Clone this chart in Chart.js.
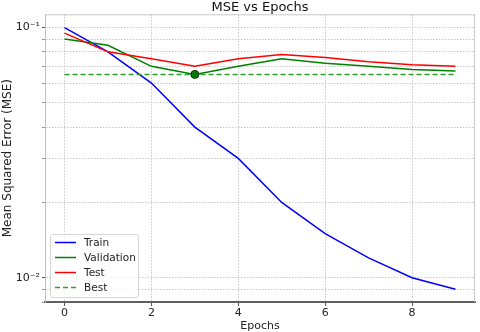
<!DOCTYPE html>
<html><head><meta charset="utf-8">
<script src="https://cdn.jsdelivr.net/npm/chart.js@4/dist/chart.umd.min.js"></script>
<style>html,body{margin:0;padding:0;background:#fff;overflow:hidden}#c{display:block}</style>
</head><body><canvas id="c" width="480" height="332"></canvas>
<script>
const epochs = [0,1,2,3,4,5,6,7,8,9];
const train = [0.1,0.08,0.06,0.04,0.03,0.02,0.015,0.012,0.01,0.009];
const validation = [0.09,0.085,0.07,0.065,0.07,0.075,0.072,0.07,0.068,0.067];
const test = [0.095,0.08,0.075,0.07,0.075,0.078,0.076,0.073,0.071,0.07];
const bestEpoch = 3;
const bestValue = 0.065;
const xTicks = [0,2,4,6,8];
const yTicks = [0.008,0.009,0.01,0.02,0.03,0.04,0.05,0.06,0.07,0.08,0.09,0.1];
const yMajorLabels = {"0.01":"10\u207B\u00B2","0.1":"10\u207B\u00B9"};

const pts = arr => epochs.map((e,i)=>({x:e,y:arr[i]}));
const FONT = "'DejaVu Sans', sans-serif";

const legendPlugin = {
  id:'boxLegend',
  afterDraw(chart){
    const ctx = chart.ctx;
    const items = chart.data.datasets.filter(d=>!d.hideLegend);
    const x0 = 50.5, y0 = 234.5, w = 88, h = 63;
    ctx.save();
    ctx.fillStyle = 'rgba(255,255,255,0.8)';
    ctx.strokeStyle = '#d6d6d6';
    ctx.lineWidth = 1;
    ctx.beginPath();
    ctx.roundRect ? ctx.roundRect(x0,y0,w,h,2.5) : ctx.rect(x0,y0,w,h);
    ctx.fill(); ctx.stroke();
    ctx.font = '10.5px ' + FONT;
    ctx.textBaseline = 'middle';
    items.forEach((d,i)=>{
      const y = y0 + 8 + i*15;
      ctx.strokeStyle = d.borderColor;
      ctx.lineWidth = 1.5;
      ctx.setLineDash(d.borderDash || []);
      ctx.beginPath(); ctx.moveTo(55,y); ctx.lineTo(76,y); ctx.stroke();
      ctx.setLineDash([]);
      ctx.fillStyle = '#222';
      ctx.fillText(d.label, 84, y+0.5);
    });
    ctx.restore();
  }
};
const framePlugin = {
  id:'frame',
  afterDraw(chart){
    const a = chart.chartArea, ctx = chart.ctx;
    ctx.save();
    ctx.strokeStyle = '#c8c8c8'; ctx.lineWidth = 1;
    ctx.beginPath(); ctx.moveTo(a.left, a.top+0.5); ctx.lineTo(a.right, a.top+0.5);
    ctx.moveTo(a.right-0.5, a.top); ctx.lineTo(a.right-0.5, a.bottom); ctx.stroke();
    ctx.restore();
  }
};

new Chart(document.getElementById('c'), {
  type:'line',
  data:{datasets:[
    {label:'Train', data:pts(train), borderColor:'#0000ff', borderWidth:1.5, pointRadius:0, tension:0, order:4},
    {label:'Validation', data:pts(validation), borderColor:'#008000', borderWidth:1.5, pointRadius:0, tension:0, order:3},
    {label:'Test', data:pts(test), borderColor:'#ff0000', borderWidth:1.5, pointRadius:0, tension:0, order:2},
    {label:'Best', data:[{x:epochs[0],y:bestValue},{x:epochs[epochs.length-1],y:bestValue}], borderColor:'#2ca02c', borderDash:[5,3], borderWidth:1.5, pointRadius:0, order:1},
    {label:'best point', hideLegend:true, data:[{x:bestEpoch,y:bestValue}], showLine:false, pointRadius:4, pointBackgroundColor:'#0a7a0a', pointBorderColor:'#003300', pointBorderWidth:1, order:0}
  ]},
  options:{
    responsive:false, animation:false, devicePixelRatio:1,
    layout:{padding:{left:0,right:1,top:0,bottom:0}},
    plugins:{
      legend:{display:false},
      tooltip:{enabled:false},
      title:{display:true, fullSize:false, text:'MSE vs Epochs', color:'#111', font:{family:FONT,size:13,weight:'normal',lineHeight:1.1}, padding:{top:0,bottom:0}}
    },
    scales:{
      x:{type:'linear', min:-0.45, max:9.45,
        afterBuildTicks(s){ s.ticks = xTicks.map(v=>({value:v})); },
        afterFit(s){ s.height = 30; },
        ticks:{color:'#222', font:{family:FONT,size:11}, padding:1, maxRotation:0},
        grid:{color:'#c8c8c8', tickColor:'#555', tickLength:4, tickBorderDash:[]},
        border:{color:'#606060', width:2, dash:[1.5,1.5]},
        title:{display:true, text:'Epochs', color:'#222', font:{family:FONT,size:11,lineHeight:1.1}, padding:{top:0,bottom:0}}
      },
      y:{type:'logarithmic', min:0.008, max:0.113,
        afterBuildTicks(s){ s.ticks = yTicks.map(v=>({value:v})); },
        afterFit(s){ s.width = 45; },
        ticks:{color:'#222', font:{family:FONT,size:11}, padding:2, autoSkip:false,
          callback(v){ return yMajorLabels[String(+v.toPrecision(3))] || ''; }},
        grid:{color:'#c8c8c8', tickBorderDash:[],
          tickColor:c=> (yMajorLabels[String(+c.tick.value.toPrecision(3))] ? '#555' : '#999'),
          tickLength:3},
        border:{color:'#c0c0c0', width:1, dash:[1.5,1.5]},
        title:{display:true, text:'Mean Squared Error (MSE)', color:'#222', font:{family:FONT,size:12,lineHeight:1.2}, padding:{top:1,bottom:0}}
      }
    }
  },
  plugins:[legendPlugin, framePlugin]
});
</script></body></html>
